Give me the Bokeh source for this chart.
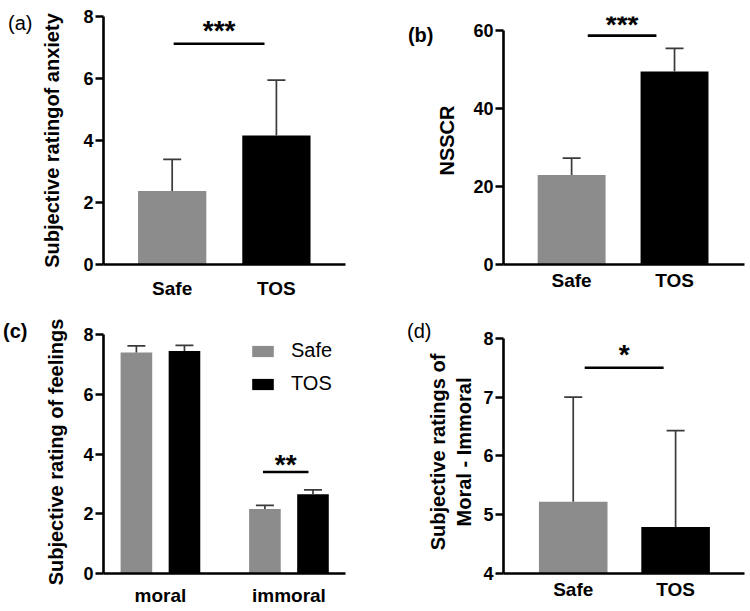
from bokeh.plotting import figure
from bokeh.layouts import gridplot
from bokeh.models import (Range1d, FixedTicker, Whisker, TeeHead, ColumnDataSource,
                          Legend, LegendItem, Label, LinearAxis)
from bokeh.core.properties import value
from bokeh.embed import file_html
from bokeh.resources import INLINE

# ---------------- data ----------------
groups = ["Safe", "TOS"]
anxiety_mean = [2.37, 4.16]
anxiety_err = [1.02, 1.79]

nsscr_mean = [23.0, 49.6]
nsscr_err = [4.3, 5.9]

conditions = ["moral", "immoral"]
feel_safe_mean = [7.40, 2.16]
feel_safe_err = [0.22, 0.12]
feel_tos_mean = [7.45, 2.65]
feel_tos_err = [0.19, 0.15]

diff_mean = [5.22, 4.79]
diff_err = [1.78, 1.64]

yticks_a = [0, 2, 4, 6, 8]
yticks_b = [0, 20, 40, 60]
yticks_c = [0, 2, 4, 6, 8]
yticks_d = [4, 5, 6, 7, 8]

# ---------------- style ----------------
FONT = "Liberation Sans"
COLORS = ["#8c8c8c", "#000000"]
ERR_COLOR = "#3a3a3a"


def make_fig(w, h, xr, yr, borders, yticks, ybounds, ylabel, lab_standoff, xstandoff):
    left, right, top, bottom = borders
    p = figure(width=w, height=h, x_range=Range1d(*xr), y_range=Range1d(*yr),
               output_backend="svg", toolbar_location=None,
               min_border_left=left, min_border_right=right,
               min_border_top=top, min_border_bottom=bottom)
    p.outline_line_color = None
    p.grid.visible = False
    p.background_fill_color = "white"
    p.border_fill_color = "white"
    ya = p.yaxis[0]
    ya.ticker = FixedTicker(ticks=yticks)
    ya.bounds = ybounds
    ya.axis_line_width = 2.6
    ya.major_tick_line_width = 2.6
    ya.major_tick_out = 8
    ya.major_tick_in = 0
    ya.minor_tick_line_color = None
    ya.major_label_standoff = 2
    ya.major_label_text_font = FONT
    ya.major_label_text_font_style = "bold"
    ya.major_label_text_font_size = "18px"
    ya.major_label_text_color = "black"
    ya.axis_label = ylabel
    ya.axis_label_text_font = FONT
    ya.axis_label_text_font_style = "bold"
    ya.axis_label_text_font_size = "20px"
    ya.axis_label_text_color = "black"
    ya.axis_label_standoff = lab_standoff
    xa = p.xaxis[0]
    xa.axis_line_width = 2.6
    xa.major_tick_line_color = None
    xa.minor_tick_line_color = None
    xa.major_tick_out = 0
    xa.major_tick_in = 0
    xa.major_label_standoff = xstandoff
    xa.major_label_text_font = FONT
    xa.major_label_text_font_style = "bold"
    xa.major_label_text_font_size = "19px"
    xa.major_label_text_color = "black"
    return p


def set_xticks(p, labels):
    pos = [i + 1 for i in range(len(labels))]
    p.xaxis[0].ticker = FixedTicker(ticks=pos)
    p.xaxis[0].major_label_overrides = {k: v for k, v in zip(pos, labels)}


def bars(p, xs, means, errs, colors, width, base=0):
    src = ColumnDataSource(dict(x=xs, top=means, upper=[m + e for m, e in zip(means, errs)],
                                color=colors))
    r = p.vbar(x="x", top="top", bottom=base, width=width, fill_color="color",
               line_color=None, source=src)
    w = Whisker(source=src, base="x", lower="top", upper="upper", dimension="height",
                line_color=ERR_COLOR, line_width=1.7,
                upper_head=TeeHead(size=18, line_color=ERR_COLOR, line_width=1.7),
                lower_head=None, level="overlay")
    p.add_layout(w)
    return r


def sig(p, x0, x1, y, stars, y_text):
    p.segment(x0=[x0], y0=[y], x1=[x1], y1=[y], line_color="black", line_width=2.6)
    p.add_layout(Label(x=(x0 + x1) / 2, y=y_text, text=stars, text_align="center",
                       text_baseline="middle", text_font=FONT, text_font_style="bold",
                       text_font_size="28px", text_color="black"))


def panel_tag(p, txt, y, standoff, style):
    # panel letter drawn as the single tick label of an extra, line-less left axis
    ax = LinearAxis(ticker=FixedTicker(ticks=[y]), major_label_overrides={y: txt},
                    axis_line_color=None, major_tick_line_color=None,
                    minor_tick_line_color=None, major_tick_out=0, major_tick_in=0,
                    major_label_standoff=standoff, major_label_text_font=FONT,
                    major_label_text_font_style=style, major_label_text_font_size="20px",
                    major_label_text_color="black")
    p.add_layout(ax, "left")


# ---------------- (a) ----------------
pa = make_fig(375, 305, (0.341, 2.663), (0, 8), (100, 30, 16, 39), yticks_a, (0, 8),
              "Subjective ratingof anxiety", 17, 13)
set_xticks(pa, groups)
bars(pa, [i + 1 for i in range(len(groups))], anxiety_mean, anxiety_err, COLORS, 0.655)
sig(pa, 1.014, 1.886, 7.12, "***", 7.55)
panel_tag(pa, "(a)", 7.79, 6, "normal")

# ---------------- (b) ----------------
pb = make_fig(375, 305, (0.338, 2.68), (0, 63.7), (126, 3, 3, 41), yticks_b, (0, 60),
              "NSSCR", 12, 5)
set_xticks(pb, groups)
bars(pb, [i + 1 for i in range(len(groups))], nsscr_mean, nsscr_err, COLORS, 0.66)
sig(pb, 1.157, 1.824, 58.8, "***", 61.7)
panel_tag(pb, "(b)", 58.94, 0, "bold")

# ---------------- (c) ----------------
pc = make_fig(375, 306, (0.557, 2.44), (0, 8.135), (102, 28, 21, 38), yticks_c, (0, 8),
              "Subjective rating of feelings", 13, 11)
set_xticks(pc, conditions)
cx = [i + 1 for i in range(len(conditions))]
r_safe = bars(pc, [x - 0.187 for x in cx], feel_safe_mean, feel_safe_err, [COLORS[0]] * 2, 0.246)
r_tos = bars(pc, [x + 0.187 for x in cx], feel_tos_mean, feel_tos_err, [COLORS[1]] * 2, 0.246)
sig(pc, 1.798, 2.152, 3.40, "**", 3.66)
panel_tag(pc, "(c)", 8.13, 15, "bold")
legend = Legend(items=[LegendItem(label=groups[0], renderers=[r_safe]),
                       LegendItem(label=groups[1], renderers=[r_tos])],
                location=(146, 178), glyph_width=27, glyph_height=14, label_height=14,
                spacing=10, padding=0, margin=0, border_line_color=None,
                background_fill_alpha=0, label_standoff=15,
                label_text_font=FONT, label_text_font_size="20px", label_text_color="black")
pc.add_layout(legend)

# ---------------- (d) ----------------
pd_ = make_fig(375, 306, (0.319, 2.673), (4, 8.133), (128, 6, 25, 33), yticks_d, (4, 8),
               "Subjective ratings of\nMoral - Immoral", 5, 5)
set_xticks(pd_, groups)
bars(pd_, [i + 1 for i in range(len(groups))], diff_mean, diff_err, COLORS, 0.67, base=4)
sig(pd_, 1.112, 1.883, 7.5, "*", 7.72)
panel_tag(pd_, "(d)", 8.13, -7, "normal")

grid = gridplot([[pa, pb], [pc, pd_]], toolbar_location=None)
open("out.html", "w").write(file_html(grid, INLINE))
